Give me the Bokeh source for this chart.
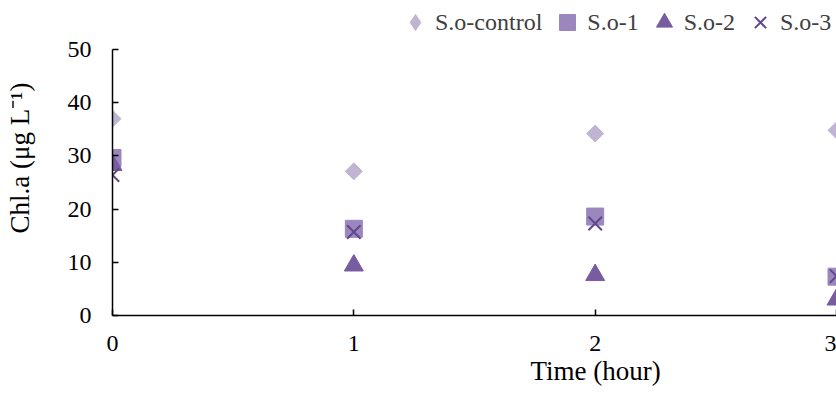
import math
from bokeh.plotting import figure
from bokeh.models import ColumnDataSource, Legend, LegendItem, FixedTicker, Title
from bokeh.embed import file_html
from bokeh.resources import INLINE

# ---- data ----
time_h = [0, 1, 2, 3]
so_control = [37.0, 27.1, 34.2, 34.8]
so_1 = [29.6, 16.3, 18.6, 7.3]
so_2 = [28.3, 9.4, 7.6, 3.0]
so_3 = [26.4, 15.7, 17.3, 7.4]
series_names = ["S.o-control", "S.o-1", "S.o-2", "S.o-3"]
x_ticks = [0, 1, 2, 3]
y_ticks = [0, 10, 20, 30, 40, 50]
y_axis_max = 50
x_label = "Time (hour)"
y_label = "Chl.a (μg L⁻¹)"

FONT = "Liberation Serif"
C_CTRL, C_1, C_2, C_3 = "#BFB5D3", "#9B87BE", "#785CA0", "#5F478A"

# frame spans the full height; the axis line is bounded to 0..50
p = figure(width=836, height=398, output_backend="svg", toolbar_location=None,
           x_range=(0, 3), y_range=(0, y_axis_max * 315 / 266),
           min_border_left=112, min_border_right=0, min_border_top=0,
           min_border_bottom=83)
p.outline_line_color = None
p.xgrid.visible = False
p.ygrid.visible = False
p.background_fill_color = "white"
p.border_fill_color = "white"

src = ColumnDataSource(dict(t=time_h, c=so_control, a=so_1, b=so_2, d=so_3))

r0 = p.scatter("t", "c", source=src, marker="square", angle=math.pi / 4, size=12,
               fill_color=C_CTRL, line_color=C_CTRL)
# legend proxy for the diamond (legend glyphs ignore the angle)
r0_leg = p.scatter("t", "c", source=src, marker="diamond", size=16,
                   fill_color=C_CTRL, line_color=C_CTRL, visible=False)
r1 = p.scatter("t", "a", source=src, marker="square", size=17,
               fill_color=C_1, line_color=C_1)
r2 = p.scatter("t", "b", source=src, marker="triangle", size=19,
               fill_color=C_2, line_color=C_2)
r3 = p.scatter("t", "d", source=src, marker="x", size=19, line_width=2,
               line_color=C_3)

for ax in (p.xaxis[0], p.yaxis[0]):
    ax.axis_line_color = "black"
    ax.axis_line_width = 1.5
    ax.major_tick_line_color = "black"
    ax.major_tick_line_width = 1.5
    ax.major_tick_in = 6
    ax.major_tick_out = 0
    ax.minor_tick_line_color = None
    ax.major_label_text_font = FONT
    ax.major_label_text_font_size = "24px"
    ax.major_label_text_color = "black"
    ax.axis_label_text_font = FONT
    ax.axis_label_text_font_size = "27px"
    ax.axis_label_text_font_style = "normal"
    ax.axis_label_text_color = "black"

p.xaxis.ticker = FixedTicker(ticks=x_ticks)
p.yaxis.ticker = FixedTicker(ticks=y_ticks)
p.yaxis.bounds = (0, y_axis_max)
p.yaxis.axis_label = y_label
p.xaxis.major_label_standoff = 20
p.yaxis.major_label_standoff = 21
p.yaxis.axis_label_standoff = 30

# x-axis title: the original chart continues past the cropped right edge,
# so its title sits left of this frame's centre
xt = Title(text=x_label, align="left", offset=418, standoff=0,
           text_font=FONT, text_font_size="27px", text_font_style="normal",
           text_color="black")
p.add_layout(xt, "below")

legend = Legend(items=[LegendItem(label=n, renderers=[r]) for n, r in
                       zip(series_names, [r0_leg, r1, r2, r3])],
                orientation="horizontal", location=(283, 273))
legend.label_text_font = FONT
legend.label_text_font_size = "24px"
legend.label_text_color = "#404040"
legend.border_line_color = None
legend.background_fill_alpha = 0
legend.padding = 0
legend.margin = 0
legend.spacing = 5
legend.glyph_width = 40
legend.glyph_height = 40
legend.label_standoff = 0
p.add_layout(legend, "center")

open("out.html", "w").write(file_html(p, INLINE))
